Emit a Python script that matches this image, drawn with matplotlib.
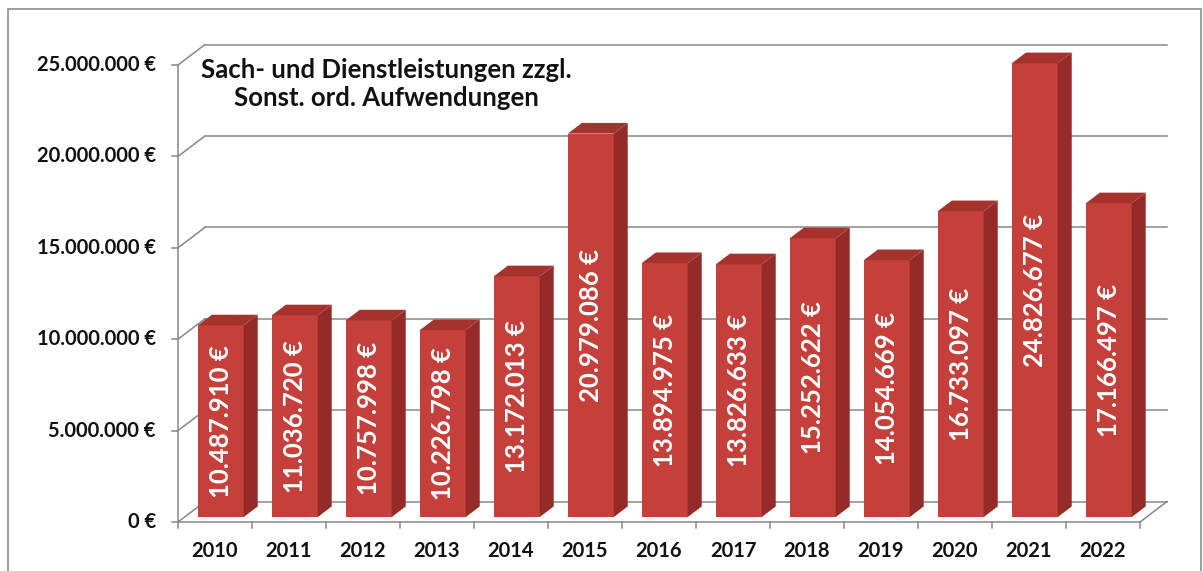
import matplotlib.pyplot as plt
from matplotlib.patches import Polygon, Rectangle

plt.rcParams['font.family'] = ['Lato', 'DejaVu Sans']

years = ['2010', '2011', '2012', '2013', '2014', '2015', '2016',
         '2017', '2018', '2019', '2020', '2021', '2022']
values = [10487910, 11036720, 10757998, 10226798, 13172013, 20979086, 13894975,
          13826633, 15252622, 14054669, 16733097, 24826677, 17166497]
y_ticks = [0, 5000000, 10000000, 15000000, 20000000, 25000000]
title = "Sach- und Dienstleistungen zzgl.\nSonst. ord. Aufwendungen"


def euro(v):
    return "{:,}".format(v).replace(",", ".") + " \u20ac"


# pseudo-3D geometry (category units / value units)
DX = 0.365          # depth shift in x
DY = 1.12e6         # depth shift in y
d0, d1 = 0.24, 0.76  # bar depth range
bx0, bx1 = 0.18, 0.80  # bar span inside a category

front_c = '#c5403a'
side_c = '#942b28'
top_c = '#a6322e'
grid_c = '#878787'

fig = plt.figure(figsize=(12.03, 5.71), dpi=100)
ax = fig.add_axes([0, 0, 1, 1])
ax.set_xlim(-178 / 74, (1203 - 178) / 74)
ax.set_ylim(-49 / 91.4 * 5e6, 522 / 91.4 * 5e6)
ax.axis('off')

# outer frame (in axes coords)
ax.add_patch(Rectangle((8 / 1203, -0.2), (1201 - 8) / 1203, 1.2 - 9 / 571,
                       transform=ax.transAxes, fill=False, ec='#8e8e8e',
                       lw=1.2, clip_on=False))

n = len(years)
# gridlines on back wall + side wall diagonals
for t in y_ticks:
    ax.plot([DX, n + DX], [t + DY, t + DY], color=grid_c, lw=1.1, zorder=1)
    ax.plot([0, DX], [t, t + DY], color=grid_c, lw=1.1, zorder=1)
    ax.plot([-0.08, 0], [t, t], color=grid_c, lw=1.1, zorder=1)
    ax.text(-0.3, t, euro(t), ha='right', va='center', fontsize=14.5,
            fontweight='bold', color='#111111')

# floor + axis lines
ax.plot([0, 0], [0, y_ticks[-1]], color=grid_c, lw=1.1, zorder=1)
ax.plot([0, n], [0, 0], color=grid_c, lw=1.1, zorder=1)
ax.plot([n, n + DX], [0, DY], color=grid_c, lw=1.1, zorder=1)
for i in range(n + 1):
    ax.plot([i, i], [0, -0.33e6], color=grid_c, lw=1.1, zorder=1)

# bars
for i, v in enumerate(values):
    x0 = i + bx0
    x1 = i + bx1
    fx0, fx1 = x0 + d0 * DX, x1 + d0 * DX
    bxa, bxb = x0 + d1 * DX, x1 + d1 * DX
    yb0, yb1 = d0 * DY, d1 * DY
    front = Polygon([(fx0, yb0), (fx1, yb0), (fx1, v + yb0), (fx0, v + yb0)],
                    closed=True, fc=front_c, ec='none', zorder=3)
    side = Polygon([(fx1, yb0), (bxb, yb1), (bxb, v + yb1), (fx1, v + yb0)],
                   closed=True, fc=side_c, ec='none', zorder=3)
    top = Polygon([(fx0, v + yb0), (fx1, v + yb0), (bxb, v + yb1), (bxa, v + yb1)],
                  closed=True, fc=top_c, ec='none', zorder=3)
    for p in (front, side, top):
        ax.add_patch(p)
    ax.text((fx0 + fx1) / 2, yb0 + v / 2, euro(v), rotation=90,
            ha='center', va='center', rotation_mode='anchor',
            fontsize=18.5, fontweight='bold', color='white', zorder=4)
    ax.text(i + 0.5, -1.6e6, years[i], ha='center', va='center',
            fontsize=14.5, fontweight='bold', color='#111111')

ax.text(2.81, 23.96e6, title, ha='center', va='center', fontsize=18.5,
        fontweight='bold', color='#111111', linespacing=1.2, zorder=5)

plt.savefig('out.png', dpi=100)
